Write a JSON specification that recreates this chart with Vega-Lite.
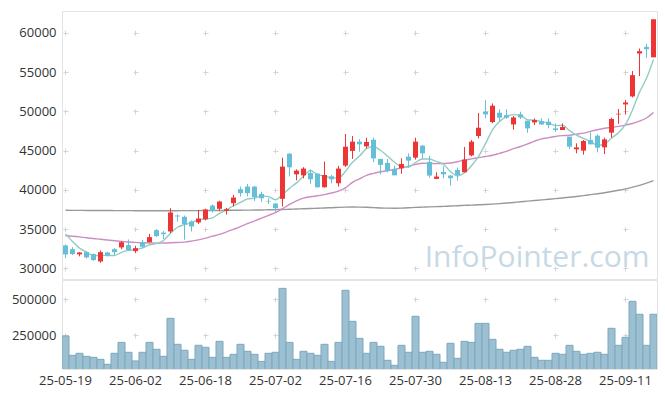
{
  "$schema": "https://vega.github.io/schema/vega-lite/v6.json",
  "padding": {"left": 6, "top": 10, "right": 9, "bottom": 0},
  "spacing": -3,
  "config": {
    "font": "Open Sans",
    "view": {"stroke": "#e3e3e3"},
    "axis": {"domain": false, "ticks": false, "labelFontSize": 13, "labelColor": "#333333", "title": null, "gridColor": "#d4d4d4", "gridWidth": 1}
  },
  "datasets": {
    "k": [
      {"d":"25-05-19","o":32920,"h":33050,"l":31300,"c":31780,"v":245400,"m5":34400,"m20":34150,"m120":37400},
      {"d":"25-05-20","o":32450,"h":32700,"l":31700,"c":31820,"v":111000,"m5":33430,"m20":34100,"m120":37390},
      {"d":"25-05-21","o":31780,"h":32070,"l":31530,"c":32030,"v":125000,"m5":32580,"m20":34020,"m120":37390},
      {"d":"25-05-22","o":32070,"h":32150,"l":31270,"c":31400,"v":104000,"m5":32070,"m20":33900,"m120":37380},
      {"d":"25-05-23","o":31820,"h":31900,"l":30970,"c":31050,"v":97000,"m5":31616,"m20":33800,"m120":37380},
      {"d":"25-05-26","o":30890,"h":32280,"l":30720,"c":32070,"v":83000,"m5":31674,"m20":33720,"m120":37370},
      {"d":"25-05-27","o":32030,"h":32100,"l":31520,"c":31650,"v":48600,"m5":31640,"m20":33620,"m120":37370},
      {"d":"25-05-28","o":32450,"h":32580,"l":31650,"c":32070,"v":125000,"m5":31648,"m20":33520,"m120":37360},
      {"d":"25-05-29","o":32670,"h":33470,"l":32450,"c":33340,"v":201000,"m5":32036,"m20":33440,"m120":37360},
      {"d":"25-05-30","o":32960,"h":33680,"l":32290,"c":32330,"v":132000,"m5":32292,"m20":33370,"m120":37360},
      {"d":"25-06-02","o":32200,"h":32880,"l":31950,"c":32580,"v":72000,"m5":32394,"m20":33310,"m120":37350},
      {"d":"25-06-04","o":33340,"h":33640,"l":32540,"c":32760,"v":132000,"m5":32616,"m20":33270,"m120":37350},
      {"d":"25-06-05","o":33340,"h":34400,"l":33300,"c":33980,"v":201000,"m5":32998,"m20":33240,"m120":37350},
      {"d":"25-06-09","o":34870,"h":35000,"l":34000,"c":34110,"v":153000,"m5":33152,"m20":33220,"m120":37350},
      {"d":"25-06-10","o":34560,"h":34750,"l":33730,"c":34360,"v":104000,"m5":33558,"m20":33230,"m120":37350},
      {"d":"25-06-11","o":34700,"h":37660,"l":34500,"c":37120,"v":368000,"m5":34466,"m20":33260,"m120":37350},
      {"d":"25-06-12","o":36730,"h":36860,"l":35970,"c":36610,"v":187500,"m5":35236,"m20":33300,"m120":37350},
      {"d":"25-06-13","o":36570,"h":36730,"l":33650,"c":35630,"v":146000,"m5":35566,"m20":33350,"m120":37360},
      {"d":"25-06-16","o":35970,"h":36100,"l":34700,"c":35340,"v":83000,"m5":35812,"m20":33480,"m120":37360},
      {"d":"25-06-17","o":35850,"h":37460,"l":35660,"c":36350,"v":180500,"m5":36210,"m20":33640,"m120":37360},
      {"d":"25-06-18","o":36260,"h":37600,"l":36100,"c":37500,"v":167000,"m5":36286,"m20":33850,"m120":37370},
      {"d":"25-06-19","o":38000,"h":38150,"l":37100,"c":37330,"v":97000,"m5":36430,"m20":34100,"m120":37370},
      {"d":"25-06-20","o":37590,"h":38600,"l":37300,"c":38510,"v":208000,"m5":37006,"m20":34330,"m120":37380},
      {"d":"25-06-23","o":37330,"h":37700,"l":36860,"c":37540,"v":97000,"m5":37446,"m20":34640,"m120":37390},
      {"d":"25-06-24","o":38300,"h":39360,"l":37870,"c":39020,"v":118000,"m5":37980,"m20":34980,"m120":37400},
      {"d":"25-06-25","o":40090,"h":40420,"l":39150,"c":39580,"v":187500,"m5":38396,"m20":35330,"m120":37410},
      {"d":"25-06-26","o":40420,"h":40760,"l":39150,"c":39580,"v":139000,"m5":38846,"m20":35700,"m120":37420},
      {"d":"25-06-27","o":40420,"h":40500,"l":38590,"c":39060,"v":118000,"m5":38956,"m20":36050,"m120":37430},
      {"d":"25-06-30","o":39490,"h":39750,"l":38460,"c":38930,"v":69000,"m5":39234,"m20":36400,"m120":37440},
      {"d":"25-07-01","o":38600,"h":38930,"l":38210,"c":38520,"v":125000,"m5":39134,"m20":36750,"m120":37460},
      {"d":"25-07-02","o":38260,"h":38300,"l":37160,"c":37660,"v":132000,"m5":38750,"m20":37100,"m120":37480},
      {"d":"25-07-03","o":38860,"h":44100,"l":37880,"c":42960,"v":576000,"m5":39426,"m20":37600,"m120":37500},
      {"d":"25-07-04","o":44610,"h":44700,"l":41720,"c":42870,"v":201000,"m5":40188,"m20":38150,"m120":37530},
      {"d":"25-07-07","o":41980,"h":42620,"l":41220,"c":42450,"v":83000,"m5":40892,"m20":38600,"m120":37560},
      {"d":"25-07-08","o":41850,"h":42880,"l":41470,"c":42710,"v":139000,"m5":41730,"m20":38950,"m120":37590},
      {"d":"25-07-09","o":42160,"h":42580,"l":40760,"c":41350,"v":125000,"m5":42468,"m20":39120,"m120":37620},
      {"d":"25-07-10","o":42070,"h":42100,"l":40300,"c":40330,"v":111000,"m5":41942,"m20":39250,"m120":37660},
      {"d":"25-07-11","o":40330,"h":43600,"l":40300,"c":41900,"v":187500,"m5":41748,"m20":39400,"m120":37700},
      {"d":"25-07-14","o":41730,"h":41900,"l":40840,"c":41350,"v":69000,"m5":41528,"m20":39600,"m120":37730},
      {"d":"25-07-15","o":40840,"h":43050,"l":40420,"c":42710,"v":201000,"m5":41528,"m20":39850,"m120":37770},
      {"d":"25-07-16","o":43090,"h":47110,"l":42900,"c":45500,"v":562500,"m5":42358,"m20":40250,"m120":37800},
      {"d":"25-07-17","o":44960,"h":46850,"l":43940,"c":46140,"v":347000,"m5":43520,"m20":40950,"m120":37810},
      {"d":"25-07-18","o":46140,"h":46470,"l":44860,"c":45800,"v":229000,"m5":44300,"m20":41400,"m120":37800},
      {"d":"25-07-21","o":45540,"h":46640,"l":45290,"c":46100,"v":125000,"m5":45250,"m20":41850,"m120":37780},
      {"d":"25-07-22","o":46390,"h":46650,"l":43520,"c":44010,"v":201000,"m5":45510,"m20":42100,"m120":37740},
      {"d":"25-07-23","o":43940,"h":43950,"l":41980,"c":43180,"v":173600,"m5":45046,"m20":42300,"m120":37700},
      {"d":"25-07-24","o":43430,"h":43940,"l":42240,"c":42410,"v":76400,"m5":44300,"m20":42450,"m120":37670},
      {"d":"25-07-25","o":42670,"h":43090,"l":41850,"c":41850,"v":41700,"m5":43510,"m20":42600,"m120":37660},
      {"d":"25-07-28","o":42740,"h":44010,"l":42050,"c":43300,"v":180500,"m5":42950,"m20":42800,"m120":37680},
      {"d":"25-07-29","o":44230,"h":44650,"l":42830,"c":43720,"v":132000,"m5":42892,"m20":43000,"m120":37720},
      {"d":"25-07-30","o":44100,"h":46640,"l":43860,"c":46140,"v":382000,"m5":43484,"m20":43250,"m120":37770},
      {"d":"25-07-31","o":45630,"h":45720,"l":43940,"c":44650,"v":132000,"m5":43932,"m20":43380,"m120":37800},
      {"d":"25-08-01","o":43560,"h":44350,"l":41550,"c":41820,"v":139000,"m5":43926,"m20":43360,"m120":37830},
      {"d":"25-08-04","o":41400,"h":42240,"l":41400,"c":41690,"v":118000,"m5":43604,"m20":43340,"m120":37860},
      {"d":"25-08-05","o":42280,"h":43010,"l":41480,"c":41980,"v":62500,"m5":43256,"m20":43360,"m120":37900},
      {"d":"25-08-06","o":41820,"h":41900,"l":40550,"c":41480,"v":194500,"m5":42324,"m20":43420,"m120":37940},
      {"d":"25-08-07","o":42540,"h":42830,"l":41180,"c":41900,"v":90300,"m5":41774,"m20":43580,"m120":37980},
      {"d":"25-08-08","o":42240,"h":45460,"l":42240,"c":43850,"v":208000,"m5":42180,"m20":43800,"m120":38020},
      {"d":"25-08-11","o":44390,"h":46350,"l":44260,"c":46140,"v":201000,"m5":43070,"m20":43950,"m120":38060},
      {"d":"25-08-12","o":46860,"h":49780,"l":46560,"c":47910,"v":333000,"m5":44256,"m20":44100,"m120":38100},
      {"d":"25-08-13","o":49950,"h":51430,"l":49100,"c":49610,"v":333000,"m5":45882,"m20":44250,"m120":38140},
      {"d":"25-08-14","o":48630,"h":51000,"l":48500,"c":50710,"v":222000,"m5":47644,"m20":44400,"m120":38190},
      {"d":"25-08-18","o":49820,"h":50260,"l":48670,"c":49190,"v":153000,"m5":48712,"m20":44650,"m120":38250},
      {"d":"25-08-19","o":49520,"h":50260,"l":49050,"c":49190,"v":132000,"m5":49322,"m20":44900,"m120":38320},
      {"d":"25-08-20","o":48330,"h":49400,"l":47660,"c":49220,"v":146000,"m5":49584,"m20":45250,"m120":38400},
      {"d":"25-08-21","o":49610,"h":49950,"l":49020,"c":49220,"v":153000,"m5":49506,"m20":45520,"m120":38480},
      {"d":"25-08-22","o":48800,"h":48800,"l":47280,"c":47830,"v":173600,"m5":48930,"m20":45850,"m120":38560},
      {"d":"25-08-25","o":48590,"h":49100,"l":48250,"c":48890,"v":97000,"m5":48870,"m20":46200,"m120":38640},
      {"d":"25-08-26","o":48760,"h":49100,"l":48250,"c":48330,"v":76400,"m5":48698,"m20":46500,"m120":38720},
      {"d":"25-08-27","o":48680,"h":49100,"l":47830,"c":48250,"v":76400,"m5":48504,"m20":46650,"m120":38800},
      {"d":"25-08-28","o":47830,"h":48460,"l":47370,"c":47620,"v":125000,"m5":48184,"m20":46800,"m120":38880},
      {"d":"25-08-29","o":47620,"h":48460,"l":47620,"c":48000,"v":118000,"m5":48218,"m20":46900,"m120":38970},
      {"d":"25-09-01","o":46770,"h":46770,"l":45200,"c":45500,"v":180500,"m5":47540,"m20":46960,"m120":39060},
      {"d":"25-09-02","o":45160,"h":45920,"l":44650,"c":45410,"v":139000,"m5":46956,"m20":47100,"m120":39160},
      {"d":"25-09-03","o":44990,"h":46350,"l":44480,"c":46220,"v":118000,"m5":46550,"m20":47230,"m120":39270},
      {"d":"25-09-04","o":46350,"h":47320,"l":45800,"c":45800,"v":125000,"m5":46186,"m20":47450,"m120":39390},
      {"d":"25-09-05","o":46900,"h":47070,"l":44780,"c":45370,"v":132000,"m5":45660,"m20":47650,"m120":39510},
      {"d":"25-09-08","o":45410,"h":46640,"l":44560,"c":46430,"v":118000,"m5":45846,"m20":47850,"m120":39640},
      {"d":"25-09-09","o":47280,"h":49190,"l":46640,"c":49020,"v":298600,"m5":46568,"m20":47950,"m120":39790},
      {"d":"25-09-10","o":49610,"h":50300,"l":48420,"c":49690,"v":180500,"m5":47262,"m20":48080,"m120":39950},
      {"d":"25-09-11","o":50880,"h":51430,"l":49600,"c":51130,"v":236000,"m5":48328,"m20":48250,"m120":40120},
      {"d":"25-09-12","o":51900,"h":55140,"l":51770,"c":54610,"v":486000,"m5":50176,"m20":48450,"m120":40340},
      {"d":"25-09-15","o":57360,"h":58000,"l":54480,"c":57660,"v":396000,"m5":52422,"m20":48750,"m120":40580},
      {"d":"25-09-16","o":58210,"h":58600,"l":56800,"c":57910,"v":180500,"m5":54200,"m20":49150,"m120":40860},
      {"d":"25-09-17","o":56880,"h":61720,"l":56880,"c":61720,"v":396000,"m5":56606,"m20":49850,"m120":41170}
    ]
  },
  "vconcat": [
    {
      "width": 595,
      "height": 268,
      "data": {"name": "k"},
      "layer": [
        {"mark": {"type": "line", "color": "#999999", "strokeWidth": 1.4, "interpolate": "monotone"},
         "encoding": {
           "x": {"field": "d", "type": "ordinal", "scale": {"paddingInner": 0, "paddingOuter": 0},
              "axis": {"labels": false, "values": ["25-05-19","25-06-02","25-06-18","25-07-02","25-07-16","25-07-30","25-08-13","25-08-28","25-09-11"],
                       "grid": true, "gridDash": [5, 34.27], "gridDashOffset": 19.98, "minExtent": 0, "maxExtent": 0}},
           "y": {"field": "m120", "type": "quantitative",
            "scale": {"domain": [28650, 62775], "nice": false, "zero": false},
            "axis": {"values": [30000,35000,40000,45000,50000,55000,60000], "format": "d", "grid": true, "gridDash": [5, 65], "gridDashOffset": 69, "labelPadding": 6, "minExtent": 55, "maxExtent": 55}}}},
        {"mark": {"type": "line", "color": "#cc8ec2", "strokeWidth": 1.4, "interpolate": "monotone"},
         "encoding": {"x": {"field": "d", "type": "ordinal"}, "y": {"field": "m20", "type": "quantitative"}}},
        {"mark": {"type": "line", "color": "#8fcdc2", "strokeWidth": 1.4, "interpolate": "monotone"},
         "encoding": {"x": {"field": "d", "type": "ordinal"}, "y": {"field": "m5", "type": "quantitative"}}},
        {"mark": {"type": "rule", "strokeWidth": 1},
         "encoding": {"x": {"field": "d", "type": "ordinal"}, "y": {"field": "l", "type": "quantitative"}, "y2": {"field": "h"},
           "color": {"condition": {"test": "datum.c >= datum.o", "value": "#ee3535"}, "value": "#66bfd8"}}},
        {"mark": {"type": "bar", "width": 5},
         "encoding": {"x": {"field": "d", "type": "ordinal"}, "y": {"field": "o", "type": "quantitative"}, "y2": {"field": "c"},
           "color": {"condition": {"test": "datum.c >= datum.o", "value": "#ee3535"}, "value": "#66bfd8"}}},
        {"data": {"values": [{"t": "InfoPointer.com"}]},
         "mark": {"type": "text", "align": "right", "baseline": "alphabetic", "dx": -4, "fontSize": 30, "color": "#c6d9e5", "font": "Open Sans"},
         "encoding": {"text": {"field": "t"}, "x": {"datum": "25-09-17", "type": "ordinal"}, "y": {"datum": 30200, "type": "quantitative"}}}
      ]
    },
    {
      "width": 595,
      "height": 89,
      "data": {"name": "k"},
      "mark": {"type": "bar", "width": {"band": 1}, "fill": "#9cc0d1", "stroke": "#7ba8be", "strokeWidth": 1, "clip": true},
      "encoding": {
        "x": {"field": "d", "type": "ordinal", "scale": {"paddingInner": 0, "paddingOuter": 0},
              "axis": {"labelAngle": 0, "labelPadding": 5, "values": ["25-05-19","25-06-02","25-06-18","25-07-02","25-07-16","25-07-30","25-08-13","25-08-28","25-09-11"],
                       "grid": true, "gridDash": [5, 31], "gridDashOffset": 19.2}},
        "y": {"field": "v", "type": "quantitative", "scale": {"domain": [16000, 634000], "nice": false, "zero": false},
              "axis": {"values": [250000, 500000], "format": "d", "grid": true, "gridDash": [5, 65], "gridDashOffset": 69, "labelPadding": 6, "minExtent": 55, "maxExtent": 55}}
      }
    }
  ]
}
